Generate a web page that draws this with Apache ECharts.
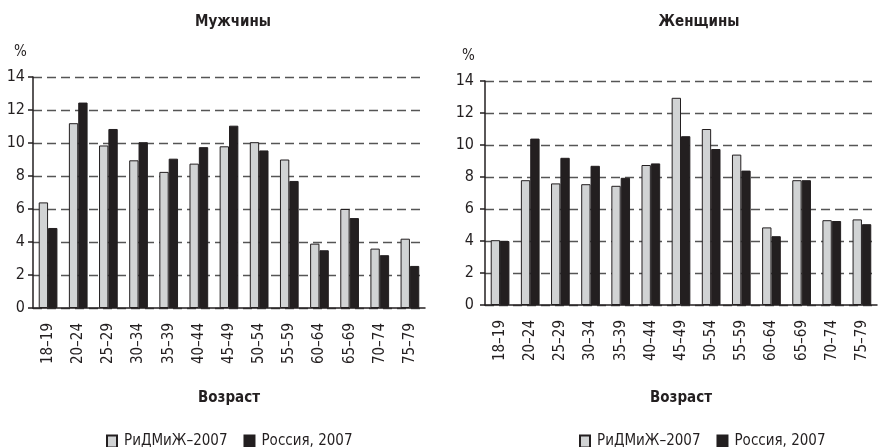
<!DOCTYPE html>
<html>
<head>
<meta charset="utf-8">
<script src="https://cdn.jsdelivr.net/npm/echarts@6/dist/echarts.min.js"></script>
<style>
  html, body { margin: 0; padding: 0; background: #fff; }
  #chart { width: 878px; height: 447px; }
</style>
</head>
<body>
<div id="chart"></div>
<script>
const ageGroups = ['18–19', '20–24', '25–29', '30–34', '35–39', '40–44', '45–49',
  '50–54', '55–59', '60–64', '65–69', '70–74', '75–79'];
const seriesNames = ['РиДМиЖ–2007', 'Россия, 2007'];

// Мужчины
const menRidmizh = [6.4, 11.2, 9.85, 8.95, 8.25, 8.75, 9.8, 10.05, 9.0, 3.9, 6.0, 3.6, 4.2];
const menRussia = [4.85, 12.45, 10.85, 10.05, 9.05, 9.75, 11.05, 9.55, 7.7, 3.5, 5.45, 3.2, 2.55];

// Женщины
const womenRidmizh = [4.05, 7.8, 7.6, 7.55, 7.45, 8.75, 12.95, 11.0, 9.4, 4.85, 7.8, 5.3, 5.35];
const womenRussia = [4.0, 10.4, 9.2, 8.7, 7.95, 8.85, 10.55, 9.75, 8.4, 4.3, 7.8, 5.25, 5.05];

const ink = '#231f20';
const grey = '#d1d3d4';
const font = "'Liberation Sans Narrow', 'DejaVu Sans Condensed', 'Liberation Sans', Arial, sans-serif";

const chart = echarts.init(document.getElementById('chart'));

function makeX(gridIndex, gap) {
  return {
    type: 'category',
    gridIndex: gridIndex,
    data: ageGroups,
    axisLine: { lineStyle: { color: ink, width: 1.5 } },
    axisTick: { length: 5, lineStyle: { color: ink, width: 1.5 } },
    axisLabel: { rotate: 90, margin: 15, fontSize: 15, color: ink, fontFamily: font },
    name: 'Возраст',
    nameLocation: 'middle',
    nameGap: gap,
    nameTextStyle: { fontSize: 15, fontWeight: 'bold', color: ink, fontFamily: font }
  };
}

function makeY(gridIndex, margin) {
  return {
    type: 'value',
    gridIndex: gridIndex,
    min: 0,
    max: 14,
    interval: 2,
    axisLine: { show: true, lineStyle: { color: ink, width: 1.5 } },
    axisTick: { show: true, length: 5, lineStyle: { color: ink, width: 1.5 } },
    axisLabel: { fontSize: 16, color: ink, margin: margin, fontFamily: font },
    splitLine: { lineStyle: { color: '#555', type: [9, 5], width: 1.3 } }
  };
}

function makeBar(name, data, idx, color) {
  return {
    name: name,
    type: 'bar',
    xAxisIndex: idx,
    yAxisIndex: idx,
    data: data,
    barGap: '0%',
    barCategoryGap: '38%',
    itemStyle: { color: color, borderColor: ink, borderWidth: 1 }
  };
}

function makeLegend(left) {
  return {
    data: seriesNames.map(n => ({ name: n, icon: 'rect' })),
    left: left, top: 429, itemWidth: 10, itemHeight: 12, itemGap: 16,
    textStyle: { fontSize: 15, color: ink, fontFamily: font, padding: [0, 0, 0, 2] }
  };
}

chart.setOption({
  animation: false,
  textStyle: { fontFamily: font },
  title: [
    { text: 'Мужчины', left: 228, top: 10, textAlign: 'center',
      textStyle: { fontSize: 15, fontWeight: 'bold', color: ink, fontFamily: font } },
    { text: 'Женщины', left: 694, top: 10, textAlign: 'center',
      textStyle: { fontSize: 15, fontWeight: 'bold', color: ink, fontFamily: font } },
    { text: '%', left: 9, top: 40,
      textStyle: { fontSize: 15, fontWeight: 'normal', color: ink, fontFamily: font } },
    { text: '%', left: 457, top: 44,
      textStyle: { fontSize: 15, fontWeight: 'normal', color: ink, fontFamily: font } }
  ],
  legend: [makeLegend(101), makeLegend(574)],
  grid: [
    { left: 33, right: 453, top: 77, bottom: 139 },
    { left: 485, right: 1, top: 81, bottom: 142 }
  ],
  xAxis: [makeX(0, 83), makeX(1, 86)],
  yAxis: [makeY(0, 8), makeY(1, 11)],
  series: [
    makeBar(seriesNames[0], menRidmizh, 0, grey),
    makeBar(seriesNames[1], menRussia, 0, ink),
    makeBar(seriesNames[0], womenRidmizh, 1, grey),
    makeBar(seriesNames[1], womenRussia, 1, ink)
  ]
});

window.addEventListener('resize', () => chart.resize());
</script>
</body>
</html>
